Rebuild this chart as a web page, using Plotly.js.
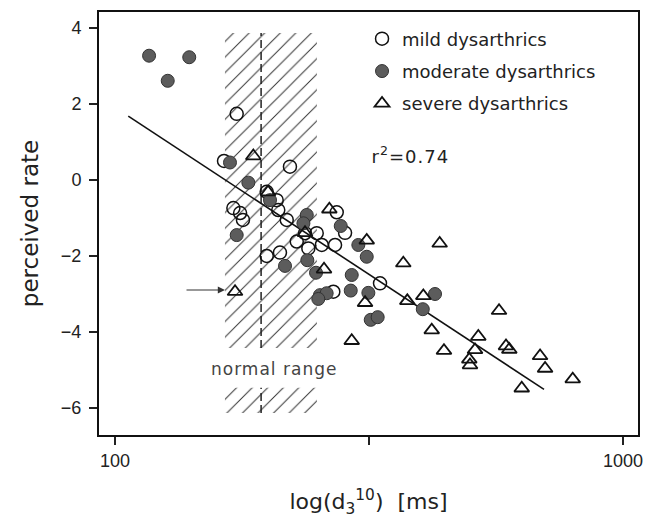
<!DOCTYPE html>
<html>
<head>
<meta charset="utf-8">
<script src="https://cdn.plot.ly/plotly-3.0.1.min.js"></script>
<style>
body{margin:0;padding:0;background:#fff;}
#chart{width:649px;height:518px;}
#chart .annotation-text{letter-spacing:1px;}
</style>
</head>
<body>
<div id="chart"></div>
<script>
// ---- data ----
const mildX = [173.6, 163.9, 221.0, 198.9, 208.1, 209.6, 171.0, 176.3, 178.6, 217.8, 236.6, 249.5, 227.9, 240.2, 255.3, 271.1, 198.9, 211.2, 269.0, 273.2, 283.7, 332.4];
const mildY = [1.74, 0.50, 0.35, -0.31, -0.53, -0.79, -0.74, -0.87, -1.05, -1.05, -1.40, -1.40, -1.62, -1.80, -1.71, -1.71, -2.00, -1.91, -2.94, -0.85, -1.39, -2.72];

const modX = [116.7, 127.0, 140.0, 168.4, 183.0, 201.9, 173.6, 238.5, 234.9, 216.1, 239.1, 248.7, 253.2, 261.0, 251.3, 278.2, 301.3, 313.0, 292.4, 291.1, 315.3, 318.7, 328.9, 426.5, 403.5];
const modY = [3.27, 2.61, 3.23, 0.46, -0.07, -0.53, -1.45, -0.92, -1.14, -2.26, -2.11, -2.44, -3.03, -2.98, -3.13, -1.21, -1.71, -2.02, -2.50, -2.91, -2.97, -3.68, -3.61, -3.00, -3.40];

const sevX = [187.2, 200.1, 172.3, 257.9, 264.2, 236.6, 313.0, 310.6, 292.4, 369.4, 435.6, 376.2, 404.5, 420.2, 444.2, 570.1, 519.0, 511.3, 498.2, 499.8, 588.4, 597.3, 686.6, 702.4, 631.9, 796.2];
const sevY = [0.63, -0.32, -2.94, -2.35, -0.77, -1.39, -1.59, -3.23, -4.23, -2.19, -1.67, -3.18, -3.05, -3.95, -4.49, -3.44, -4.12, -4.47, -4.72, -4.87, -4.37, -4.46, -4.63, -4.96, -5.48, -5.24];

// regression line end points
const fitX = [106.2, 699];
const fitY = [1.68, -5.51];

// normal range band
const normLo = 164.6, normHi = 249.7, normMid = 193.9;
const bandUpper = [-4.42, 3.87];
const bandLower = [-6.13, -5.47];

const seriesNames = ['mild dysarthrics', 'moderate dysarthrics', 'severe dysarthrics'];
const xTickVals = [100, 316.23, 1000];
const xTickText = ['100', '', '1000'];
const yTickVals = [4, 2, 0, -2, -4, -6];

// ---- traces ----
function band(yr) {
  return {
    x: [normLo, normHi, normHi, normLo, normLo],
    y: [yr[0], yr[0], yr[1], yr[1], yr[0]],
    mode: 'lines', fill: 'toself', line: {width: 0, color: 'rgba(0,0,0,0)'},
    fillcolor: 'rgba(0,0,0,0)',
    fillpattern: {shape: '/', size: 11, solidity: 0.09, fgcolor: '#333', bgcolor: 'rgba(255,255,255,0)'},
    showlegend: false, hoverinfo: 'skip'
  };
}
function dashed(yr) {
  return {
    x: [normMid, normMid], y: yr, mode: 'lines',
    line: {color: '#222', width: 1.5, dash: '8px,4px'},
    showlegend: false, hoverinfo: 'skip'
  };
}

const traces = [
  band(bandUpper), band(bandLower), dashed(bandUpper), dashed(bandLower),
  {x: fitX, y: fitY, mode: 'lines', line: {color: '#111', width: 1.6}, showlegend: false, hoverinfo: 'skip'},
  {x: mildX, y: mildY, mode: 'markers', name: seriesNames[0], legendgroup: 'a',
   marker: {symbol: 'circle-open', size: 13, color: '#111', line: {width: 1.5, color: '#111'}}},
  {x: modX, y: modY, mode: 'markers', name: seriesNames[1], legendgroup: 'b',
   marker: {symbol: 'circle', size: 13, color: '#5c5c5c', line: {width: 1, color: '#333'}}},
  {x: sevX, y: sevY, mode: 'markers', name: seriesNames[2], legendgroup: 'c',
   marker: {symbol: 'triangle-up-open', size: 13, color: '#111', line: {width: 1.8, color: '#111'}}}
];

const tickFont = {family: 'Liberation Sans, Arial, sans-serif', size: 18, color: '#222'};

const layout = {
  width: 649, height: 518,
  margin: {l: 99, r: 11, t: 12, b: 83},
  paper_bgcolor: '#fff', plot_bgcolor: '#fff',
  showlegend: true,
  legend: {
    x: 0.488, y: 0.98, xanchor: 'left', yanchor: 'top',
    bgcolor: 'rgba(0,0,0,0)', borderwidth: 0,
    traceorder: 'grouped', tracegroupgap: 6,
    font: {family: 'DejaVu Sans, sans-serif', size: 18, color: '#222'},
    itemsizing: 'trace'
  },
  xaxis: {
    type: 'log', range: [1.9685, 3.0295],
    tickvals: xTickVals, ticktext: xTickText,
    ticks: 'outside', ticklen: 8, tickwidth: 1.3, tickcolor: '#222',
    showline: true, linewidth: 2, linecolor: '#111', mirror: true,
    showgrid: false, zeroline: false,
    tickfont: tickFont,
    title: {text: 'log(d<sub>3</sub><sup>10</sup>)  [ms]', font: {family: 'DejaVu Sans, sans-serif', size: 22, color: '#222'}, standoff: 24}
  },
  yaxis: {
    range: [-6.71, 4.42],
    tickvals: yTickVals,
    ticks: 'outside', ticklen: 8, tickwidth: 1.3, tickcolor: '#222',
    ticklabelstandoff: 4,
    showline: true, linewidth: 2, linecolor: '#111', mirror: true,
    showgrid: false, zeroline: false,
    tickfont: tickFont,
    title: {text: 'perceived rate', font: {family: 'DejaVu Sans, sans-serif', size: 23, color: '#222'}, standoff: 16}
  },
  annotations: [
    {x: Math.log10(206), y: -4.97, xref: 'x', yref: 'y', text: 'normal range', showarrow: false,
     font: {family: 'DejaVu Sans, sans-serif', size: 17, color: '#444'}, bgcolor: '#fff'},
    {x: 2.5079, y: 0.66, xref: 'x', yref: 'y', xanchor: 'left', yanchor: 'middle',
     text: 'r<sup>2</sup>=0.74', showarrow: false,
     font: {family: 'DejaVu Sans, sans-serif', size: 18, color: '#222'}},
    {x: 2.2165, y: -2.895, ax: 2.1378, ay: -2.895, xref: 'x', yref: 'y', axref: 'x', ayref: 'y',
     text: '', showarrow: true, arrowhead: 2, arrowsize: 1.2, arrowwidth: 1.2, arrowcolor: '#333'}
  ]
};

Plotly.newPlot('chart', traces, layout, {displayModeBar: false, staticPlot: true});
</script>
</body>
</html>
